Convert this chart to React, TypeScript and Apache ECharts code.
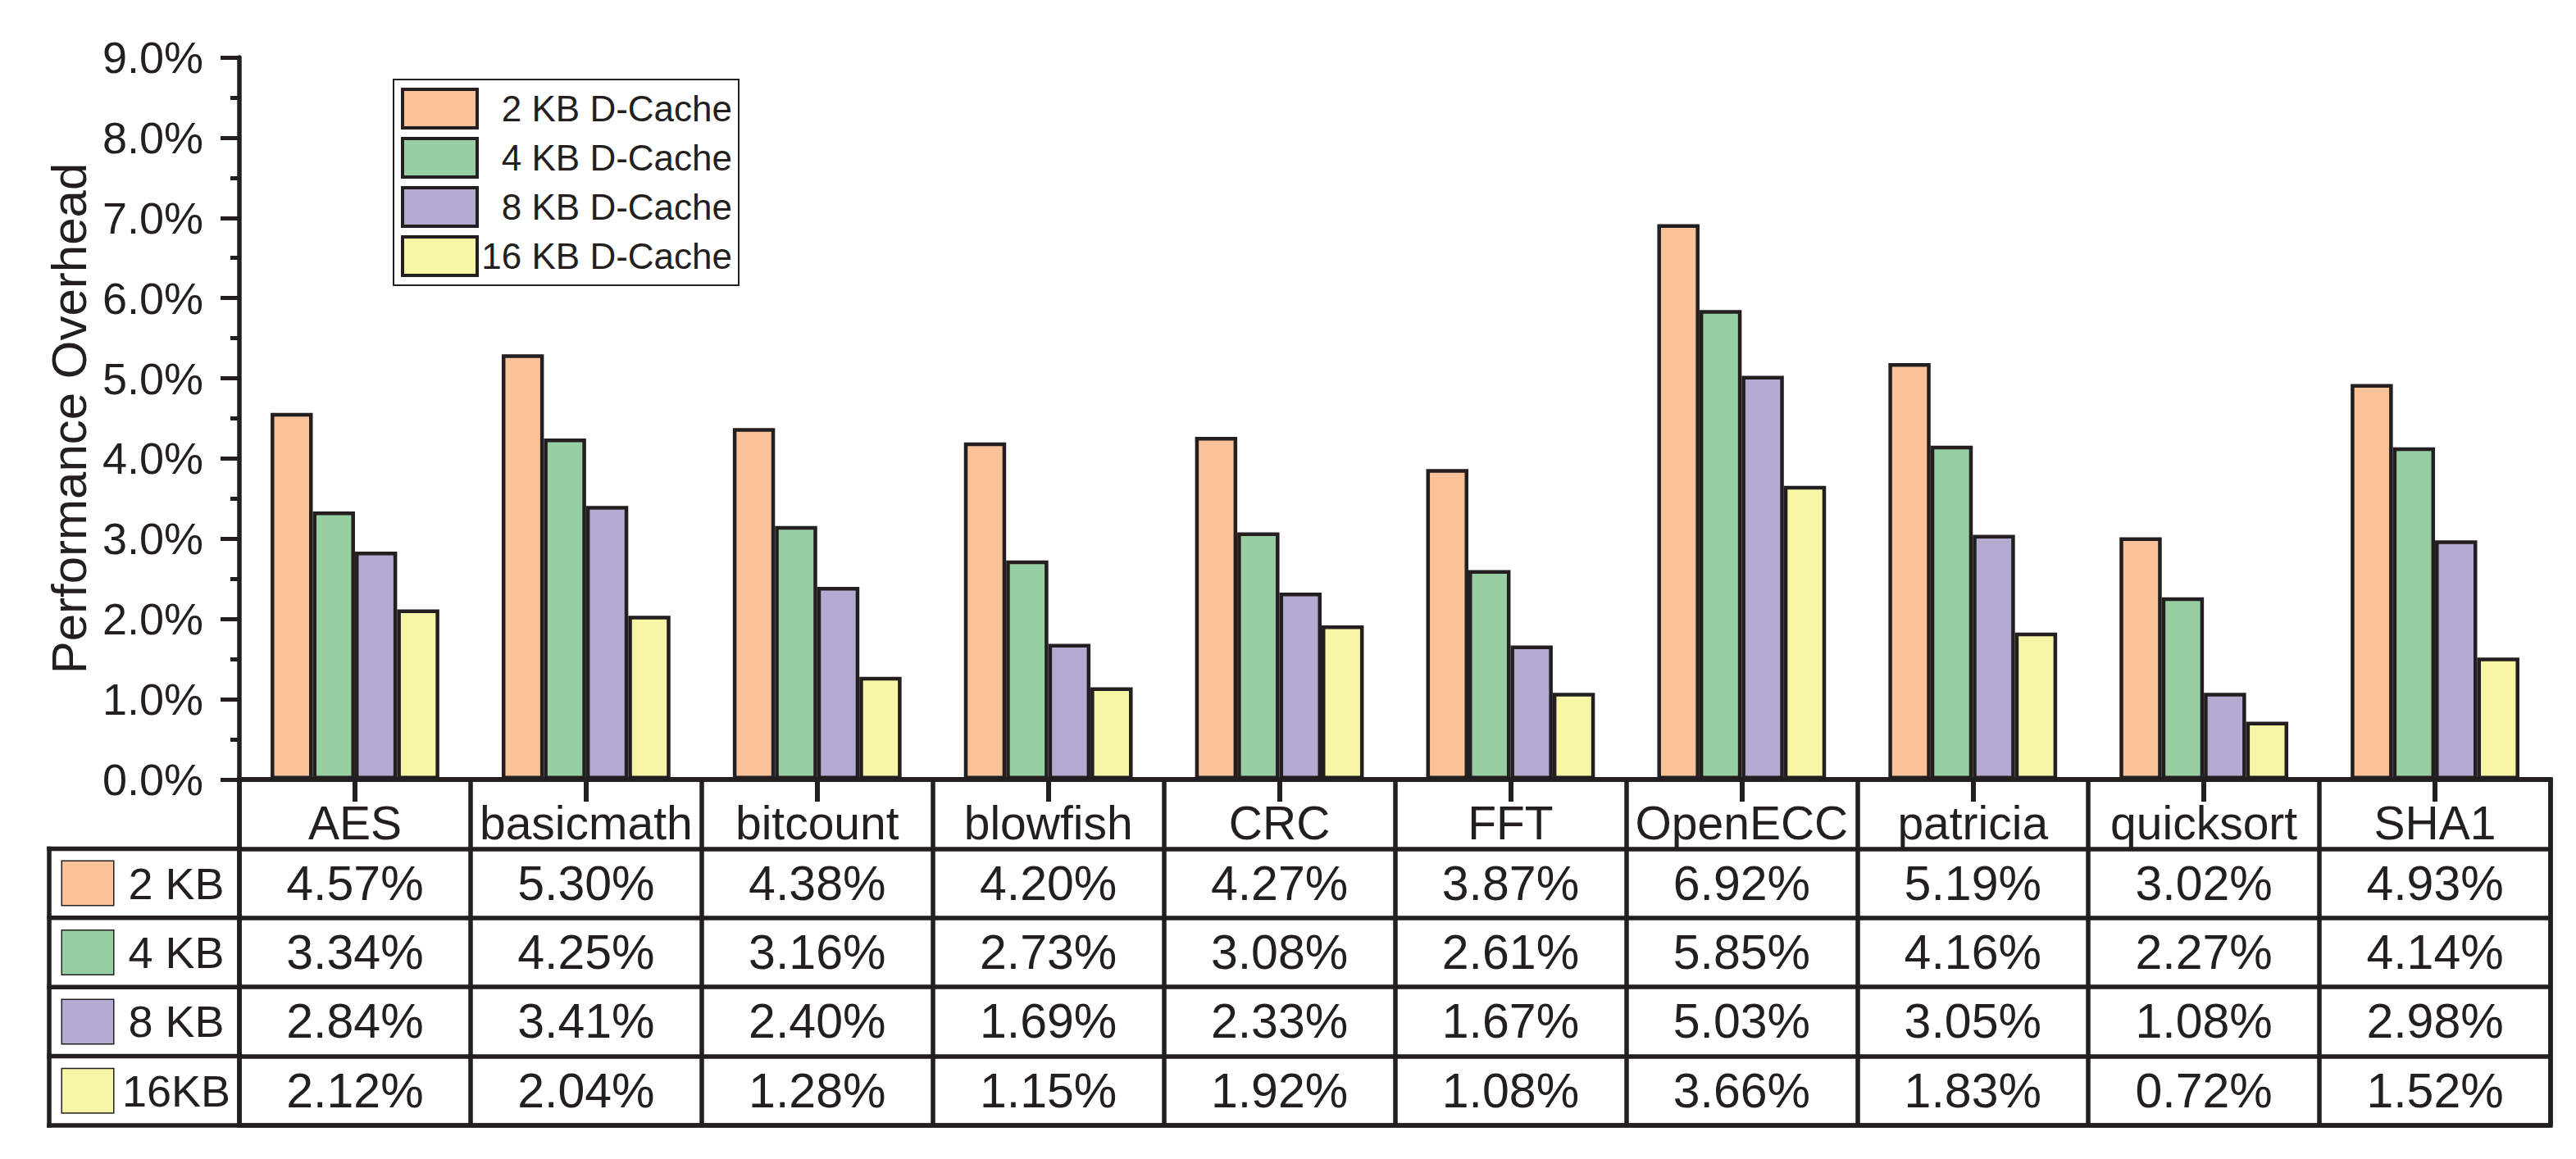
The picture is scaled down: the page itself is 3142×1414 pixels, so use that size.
import React, { useEffect, useRef } from "react";
import * as echarts from "echarts";

const categories = ["AES", "basicmath", "bitcount", "blowfish", "CRC", "FFT", "OpenECC", "patricia", "quicksort", "SHA1"];
const seriesNames = ["2 KB D-Cache", "4 KB D-Cache", "8 KB D-Cache", "16 KB D-Cache"];
const rowLabels = ["2 KB", "4 KB", "8 KB", "16KB"];
const kb2 = [4.57, 5.30, 4.38, 4.20, 4.27, 3.87, 6.92, 5.19, 3.02, 4.93];
const kb4 = [3.34, 4.25, 3.16, 2.73, 3.08, 2.61, 5.85, 4.16, 2.27, 4.14];
const kb8 = [2.84, 3.41, 2.40, 1.69, 2.33, 1.67, 5.03, 3.05, 1.08, 2.98];
const kb16 = [2.12, 2.04, 1.28, 1.15, 1.92, 1.08, 3.66, 1.83, 0.72, 1.52];
const seriesValues = [kb2, kb4, kb8, kb16];
const colors = ["#FAC299", "#98CFA2", "#B5AAD2", "#F7F5A6"];
const yTicks = { min: 0, max: 9, interval: 1 };

const INK = "#231f20";
const FONT = '"Liberation Sans", Arial, Helvetica, sans-serif';

const W = 3142;
const H = 1414;
const GRID_LEFT = 292;
const GRID_RIGHT = 3111;
const GRID_TOP = 70;
const AXIS_Y = 951;
const TABLE_BOTTOM = 1373;
const TABLE_LEFT = 60;

export default function App() {
  const ref = useRef<HTMLDivElement>(null);

  useEffect(() => {
    if (!ref.current) return;
    const chart = echarts.init(ref.current, undefined, { renderer: "svg" });

    const tableRows = ["", ...rowLabels];
    const nRows = tableRows.length;
    const rowH = (TABLE_BOTTOM - AXIS_Y) / nRows;

    const tableData: number[][] = [];
    seriesValues.forEach((vals, r) => {
      vals.forEach((v, c) => tableData.push([c, r + 1, v]));
    });

    const rich: any = {
      t: { width: 154, align: "center", fontSize: 54, fontFamily: FONT, color: INK },
    };
    colors.forEach((c, i) => {
      rich["sw" + i] = { width: 62, height: 53, backgroundColor: c, borderColor: INK, borderWidth: 1.5 };
    });

    const graphics: any[] = [];
    graphics.push({
      type: "line",
      shape: { x1: TABLE_LEFT, y1: AXIS_Y + rowH, x2: TABLE_LEFT, y2: TABLE_BOTTOM },
      style: { stroke: INK, lineWidth: 5.5, lineCap: "square" },
      silent: true,
    });
    for (let k = 1; k <= nRows; k++) {
      const y = AXIS_Y + k * rowH;
      graphics.push({
        type: "line",
        shape: { x1: TABLE_LEFT, y1: y, x2: GRID_LEFT, y2: y },
        style: { stroke: INK, lineWidth: 5.5, lineCap: "square" },
        silent: true,
      });
    }

    const option: any = {
      animation: false,
      backgroundColor: "#ffffff",
      textStyle: { fontFamily: FONT, color: INK },
      legend: {
        left: 480,
        top: 97,
        orient: "vertical",
        icon: "rect",
        padding: [10, 8, 10, 9],
        itemWidth: 91,
        itemHeight: 47,
        itemGap: 9,
        borderColor: INK,
        borderWidth: 2,
        selectedMode: false,
        itemStyle: { borderColor: INK, borderWidth: 4 },
        data: seriesNames,
        formatter: (name: string) => `{a|${name}}`,
        textStyle: {
          fontSize: 44,
          fontFamily: FONT,
          color: INK,
          lineHeight: 47,
          rich: { a: { width: 306, align: "right", fontSize: 44, fontFamily: FONT, color: INK, lineHeight: 47 } },
        },
      },
      grid: [
        { left: GRID_LEFT, top: GRID_TOP, width: GRID_RIGHT - GRID_LEFT, height: AXIS_Y - GRID_TOP },
        {
          left: GRID_LEFT,
          top: AXIS_Y,
          width: GRID_RIGHT - GRID_LEFT,
          height: TABLE_BOTTOM - AXIS_Y,
          show: true,
          borderColor: INK,
          borderWidth: 5.5,
          backgroundColor: "rgba(0,0,0,0)",
        },
      ],
      xAxis: [
        {
          type: "category",
          gridIndex: 0,
          data: categories,
          z: 10,
          axisLine: { show: true, lineStyle: { color: INK, width: 5.5 } },
          axisTick: { show: true, interval: 0, alignWithLabel: true, length: 27, lineStyle: { color: INK, width: 6 } },
          axisLabel: { margin: 24, fontSize: 57, fontFamily: FONT, color: INK, interval: 0 },
          splitLine: { show: false },
        },
        {
          type: "category",
          gridIndex: 1,
          data: categories,
          axisLine: { show: false },
          axisTick: { show: false },
          axisLabel: { show: false },
          splitLine: { show: true, interval: 0, lineStyle: { color: INK, width: 5.5 } },
        },
      ],
      yAxis: [
        {
          type: "value",
          gridIndex: 0,
          min: yTicks.min,
          max: yTicks.max,
          interval: yTicks.interval,
          name: "Performance Overhead",
          nameLocation: "middle",
          nameGap: 175,
          nameTextStyle: { fontSize: 60, fontFamily: FONT, color: INK },
          z: 10,
          axisLine: { show: true, lineStyle: { color: INK, width: 5.5 } },
          axisTick: { show: true, length: 23, lineStyle: { color: INK, width: 5 } },
          minorTick: { show: true, splitNumber: 2, length: 11, lineStyle: { color: INK, width: 5 } },
          axisLabel: {
            margin: 44,
            fontSize: 54,
            fontFamily: FONT,
            color: INK,
            formatter: (v: number) => v.toFixed(1) + "%",
          },
          splitLine: { show: false },
        },
        {
          type: "category",
          gridIndex: 1,
          inverse: true,
          data: tableRows,
          axisLine: { show: false },
          axisTick: { show: false },
          axisLabel: {
            margin: 0,
            interval: 0,
            formatter: (v: string, i: number) => (v ? `{sw${i - 1}|}{t|${v}}` : ""),
            rich,
          },
          splitLine: { show: true, interval: 0, lineStyle: { color: INK, width: 5.5 } },
        },
      ],
      series: [
        ...seriesNames.map((name, i) => ({
          name,
          type: "bar",
          xAxisIndex: 0,
          yAxisIndex: 0,
          data: seriesValues[i],
          barGap: "0%",
          barCategoryGap: "27%",
          itemStyle: { color: colors[i], borderColor: INK, borderWidth: 4.5 },
        })),
        {
          type: "custom",
          name: "table",
          xAxisIndex: 1,
          yAxisIndex: 1,
          silent: true,
          data: tableData,
          encode: { x: 0, y: 1 },
          renderItem: (params: any, api: any) => {
            const p = api.coord([api.value(0), api.value(1)]);
            return {
              type: "text",
              x: p[0],
              y: p[1],
              style: {
                text: Number(api.value(2)).toFixed(2) + "%",
                fontSize: 59,
                fontFamily: FONT,
                fill: INK,
                align: "center",
                verticalAlign: "middle",
              },
            };
          },
        },
      ],
      graphic: graphics,
    };

    chart.setOption(option);
    return () => chart.dispose();
  }, []);

  return (
    <div
      ref={ref}
      style={{ position: "absolute", left: 0, top: 0, width: W, height: H, background: "#fff" }}
    />
  );
}
